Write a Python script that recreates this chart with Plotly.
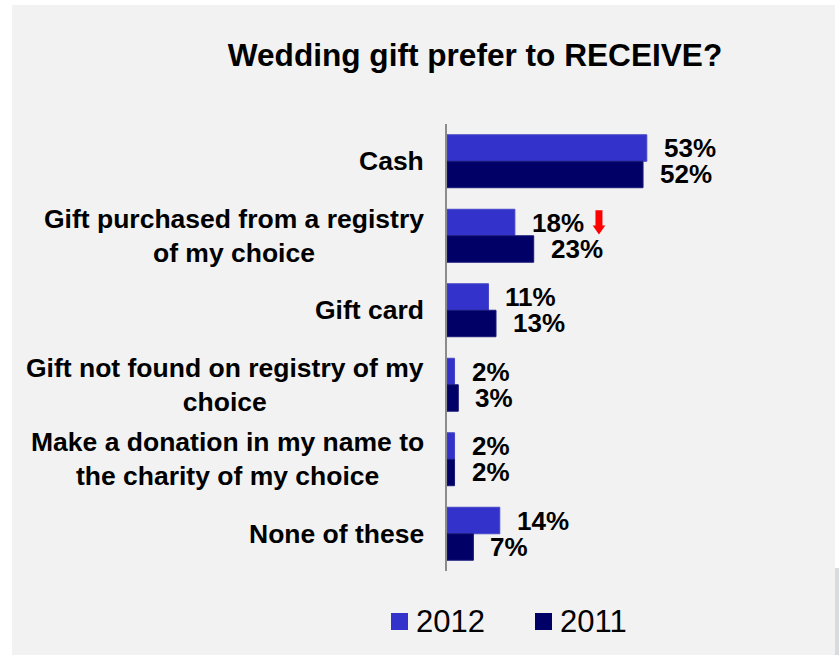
import plotly.graph_objects as go

# ---- data ----
categories = [
    "Cash",
    "Gift purchased from a registry<br>of my choice",
    "Gift card",
    "Gift not found on registry of my<br>choice",
    "Make a donation in my name to<br>the charity of my choice",
    "None of these",
]
series_names = ["2012", "2011"]
values_2012 = [53, 18, 11, 2, 2, 14]
values_2011 = [52, 23, 13, 3, 2, 7]
series_colors = ["#3333CC", "#000066"]
edge_colors = ["#4646C8", "#1A1A7A"]
title_text = "Wedding gift prefer to RECEIVE?"

# ---- geometry ----
W, H = 839, 655
L, R, T, B = 447, 15, 124, 84
PW, PH = W - L - R, H - T - B
BARGAP = 0.289
FONT = "Arial, Liberation Sans, sans-serif"


def px_x(px):
    return (px - L) / PW


def px_y(py):
    return 1 - (py - T) / PH


positions = list(range(len(categories)))
series_values = [values_2012, values_2011]

fig = go.Figure()
for name, vals, col, edge in zip(series_names, series_values, series_colors, edge_colors):
    fig.add_trace(go.Bar(
        name=name, x=vals, y=positions, orientation="h",
        marker=dict(color=col, line=dict(color=edge, width=1)),
        showlegend=False, hoverinfo="x+name",
    ))

half = (1 - BARGAP) / 4
annotations = []
# value labels beside each bar
for s, vals in enumerate(series_values):
    off = -half if s == 0 else half
    for i, v in enumerate(vals):
        annotations.append(dict(
            x=v, y=i + off, xref="x", yref="y", text=f"{v}%",
            showarrow=False, xanchor="left", yanchor="middle", xshift=15,
            font=dict(family=FONT, size=26, color="black", weight="bold"),
        ))

# category labels, lines centred within a right-aligned block
for i, c in enumerate(categories):
    annotations.append(dict(
        x=0, y=i, xref="paper", yref="y", text=c, showarrow=False,
        xanchor="right", yanchor="middle", align="center", xshift=-21,
        font=dict(family=FONT, size=26.5, color="black", weight="bold"),
    ))

# legend entries
legend_sq = [(391, 613), (535, 613)]
shapes = []
# background panel
shapes.append(dict(type="rect", xref="paper", yref="paper", layer="below",
                   x0=px_x(12), x1=px_x(835), y0=px_y(5), y1=px_y(H + 5),
                   fillcolor="#F2F2F2", line=dict(width=0)))
shapes.append(dict(type="rect", xref="paper", yref="paper", layer="below",
                   x0=px_x(835), x1=px_x(839), y0=px_y(568), y1=px_y(H + 5),
                   fillcolor="#D8DCDE", line=dict(width=0)))
for (sx, sy), name, col in zip(legend_sq, series_names, series_colors):
    shapes.append(dict(type="rect", xref="paper", yref="paper",
                       x0=px_x(sx), x1=px_x(sx + 17), y0=px_y(sy), y1=px_y(sy + 17),
                       fillcolor=col, line=dict(width=0)))
    annotations.append(dict(
        x=px_x(sx + 23), y=px_y(sy + 8.5), xref="paper", yref="paper", text=name,
        showarrow=False, xanchor="left", yanchor="middle",
        font=dict(family=FONT, size=31, color="black"),
    ))

# red down-arrow next to the 2012 registry label
shapes.append(dict(
    type="path", xref="x", yref="y", xsizemode="pixel", ysizemode="pixel",
    xanchor=values_2012[1], yanchor=1 - half,
    path="M 80.6,12.3 L 87.6,12.3 L 87.6,-3 L 90.4,-3 L 84.1,-12 L 77.8,-3 L 80.6,-3 Z",
    fillcolor="#FF0000", line=dict(width=0),
))

fig.update_layout(
    width=W, height=H,
    margin=dict(l=L, r=R, t=T, b=B),
    paper_bgcolor="white", plot_bgcolor="rgba(0,0,0,0)",
    barmode="group", bargap=BARGAP, bargroupgap=0,
    title=dict(text=title_text, x=475 / W, xref="container", xanchor="center",
               y=1 - 55 / H, yref="container", yanchor="middle",
               font=dict(family=FONT, size=31.6, color="black", weight="bold")),
    xaxis=dict(range=[0, 100], visible=False, fixedrange=True),
    yaxis=dict(range=[len(categories) - 0.5, -0.5], showticklabels=False,
               showgrid=False, zeroline=False, showline=True,
               linecolor="#8C8C8C", linewidth=2, ticks=""),
    annotations=annotations, shapes=shapes,
    showlegend=False,
)

fig.write_html("out.html")
